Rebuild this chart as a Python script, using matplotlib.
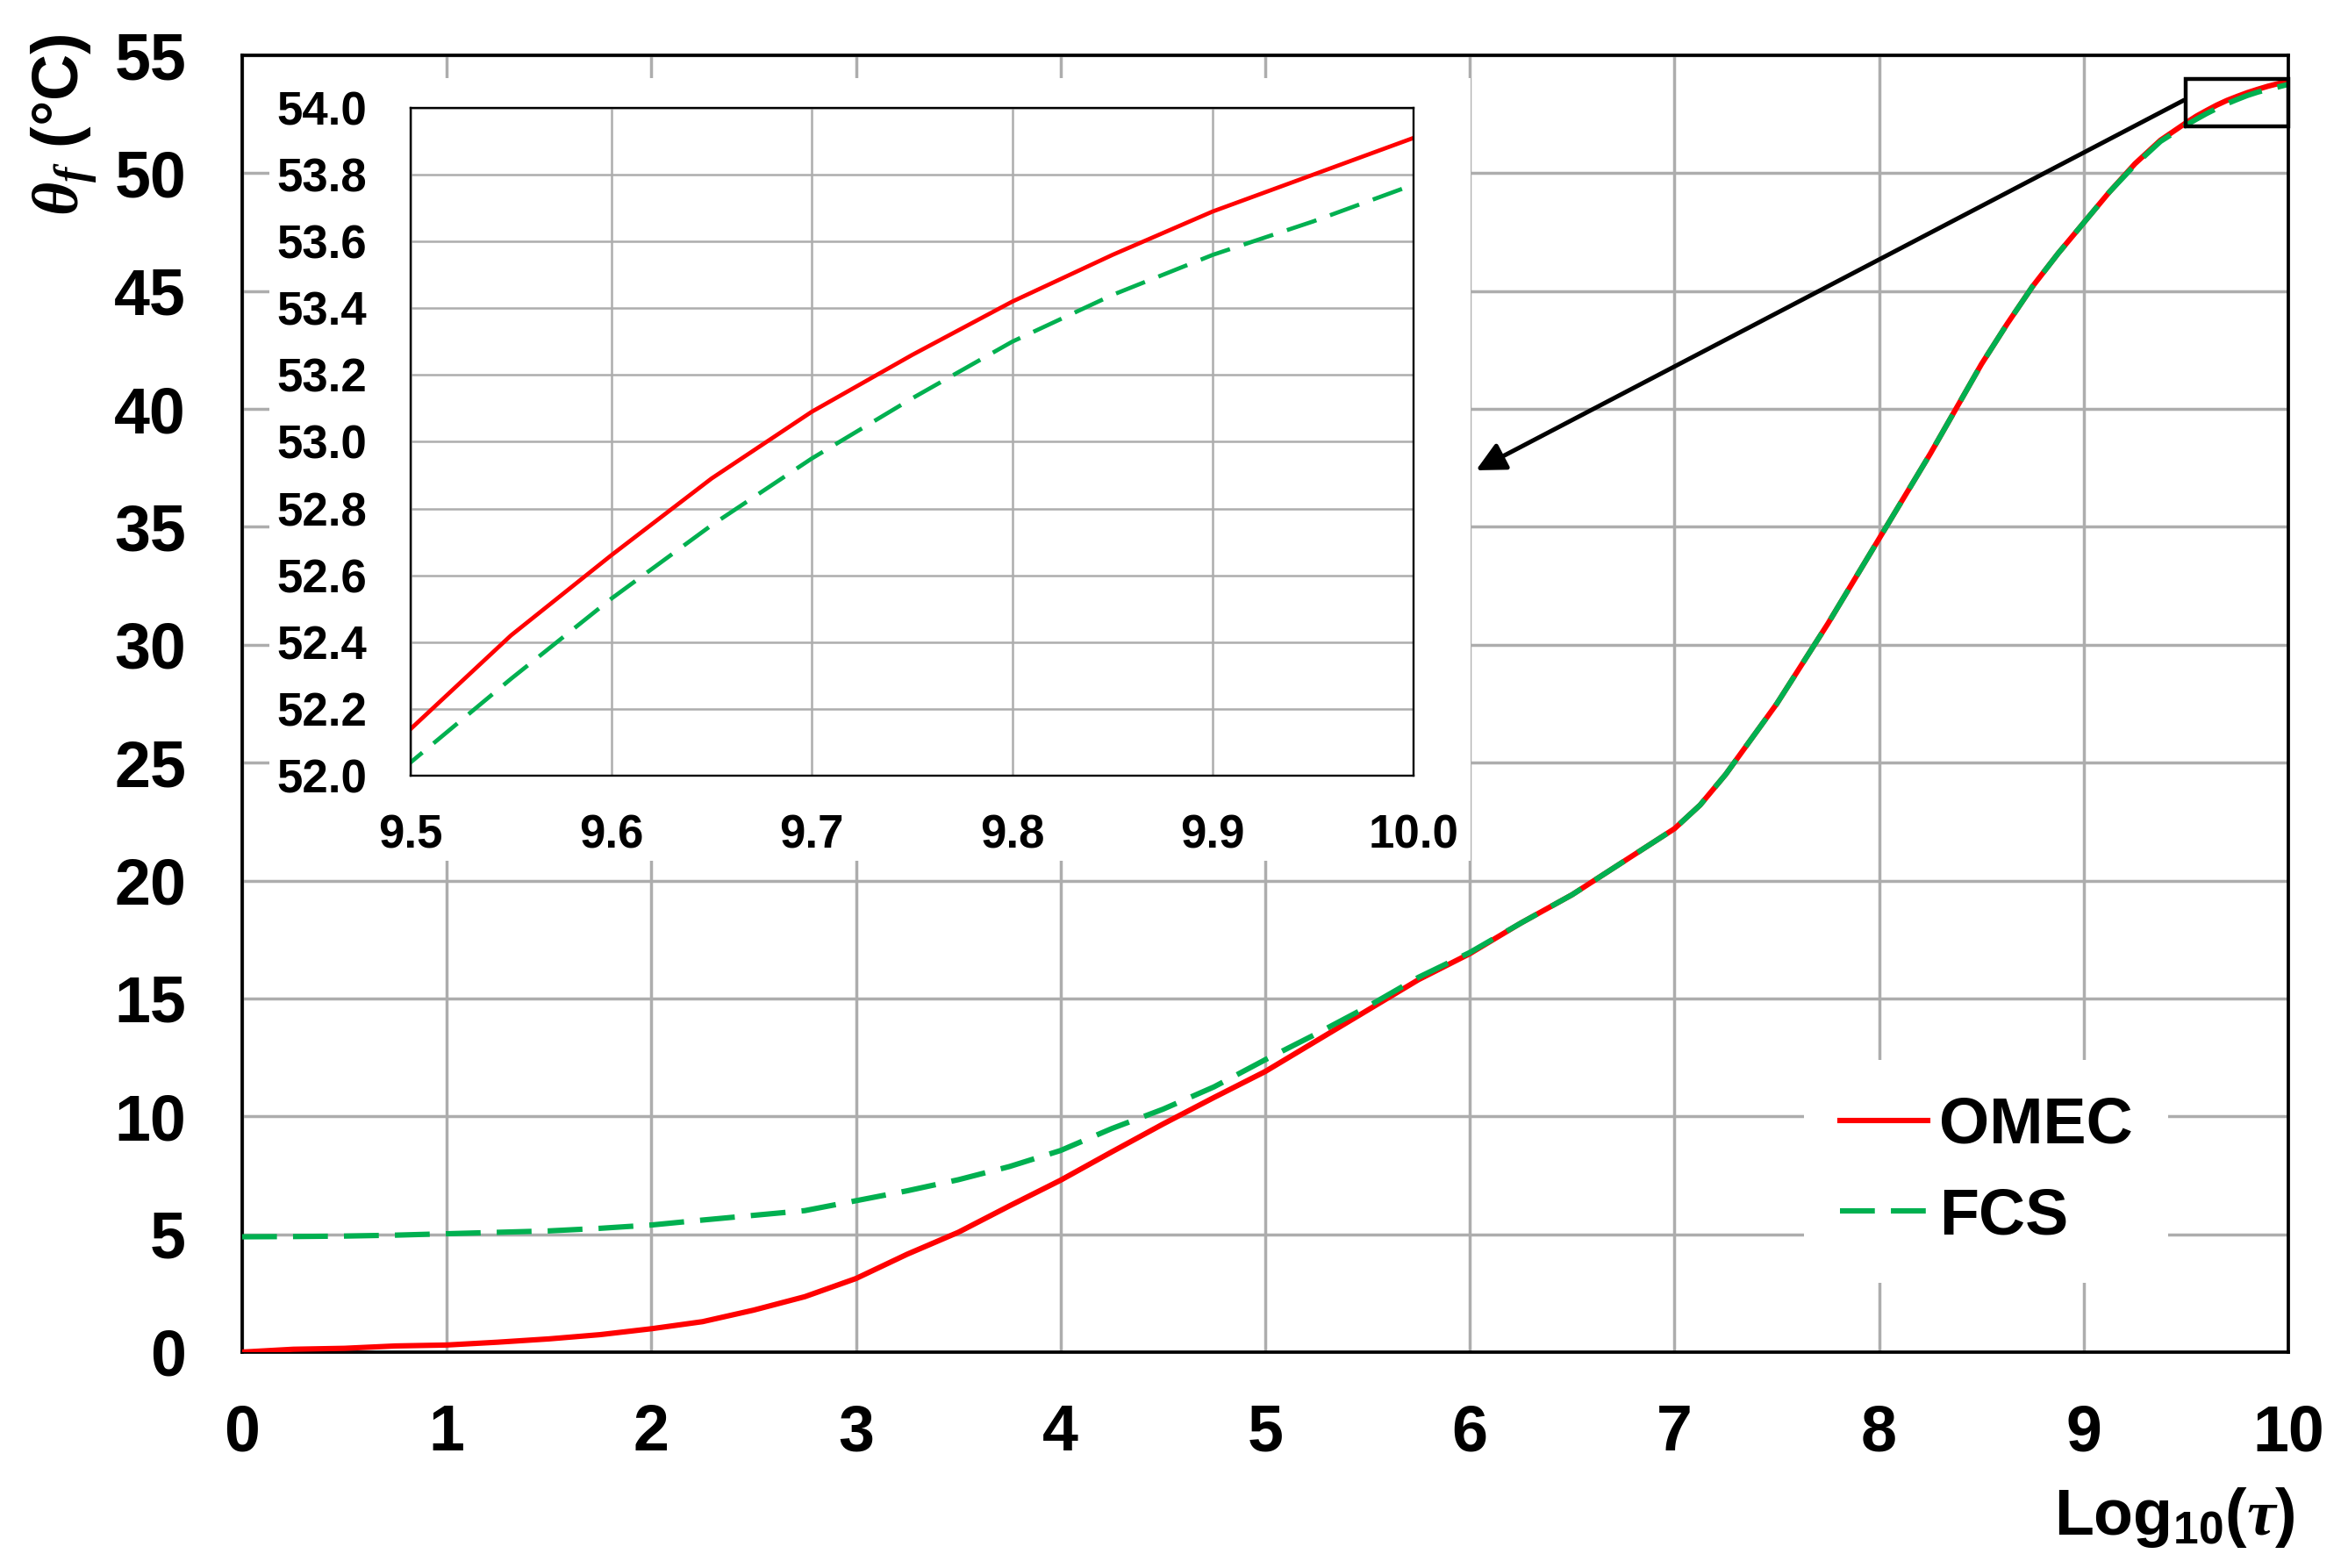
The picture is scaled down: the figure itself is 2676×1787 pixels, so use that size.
import matplotlib
matplotlib.use("Agg")
import matplotlib.pyplot as plt
from matplotlib.patches import Rectangle

# log10(tau) sample points, finer where the curve bends and in the zoomed region
tau = [0, 0.25, 0.5, 0.75, 1, 1.25, 1.5, 1.75, 2, 2.25, 2.5, 2.75, 3, 3.25,
       3.5, 3.75, 4, 4.25, 4.5, 4.75, 5, 5.25, 5.5, 5.75, 6, 6.25, 6.5, 6.75,
       7, 7.125, 7.25, 7.375, 7.5, 7.625, 7.75, 7.875, 8, 8.125, 8.25, 8.375,
       8.5, 8.625, 8.75, 8.875, 9, 9.125, 9.25, 9.375,
       9.5, 9.55, 9.6, 9.65, 9.7, 9.75, 9.8, 9.85, 9.9, 9.95, 10.0]

omec = [0.0, 0.12, 0.16, 0.26, 0.30, 0.42, 0.56, 0.74, 0.99, 1.29, 1.78, 2.35,
        3.12, 4.15, 5.08, 6.20, 7.29, 8.49, 9.67, 10.80, 11.90, 13.2, 14.5,
        15.8, 16.9, 18.2, 19.4, 20.8,
        22.2, 23.2, 24.5, 26.0, 27.5, 29.2, 30.9, 32.7, 34.5, 36.3, 38.1, 40.0,
        41.9, 43.6, 45.2, 46.6, 47.9, 49.2, 50.4, 51.4,
        52.14, 52.42, 52.66, 52.89, 53.09, 53.26, 53.42, 53.56, 53.69, 53.80, 53.91]

fcs = [4.89, 4.90, 4.92, 4.96, 5.02, 5.08, 5.14, 5.25, 5.39, 5.60, 5.80, 6.00,
       6.42, 6.84, 7.31, 7.87, 8.55, 9.48, 10.30, 11.25, 12.40, 13.5, 14.65,
       15.9, 16.95, 18.2, 19.4, 20.8,
       22.2, 23.2, 24.5, 26.0, 27.5, 29.2, 30.9, 32.7, 34.5, 36.3, 38.1, 40.0,
       41.9, 43.6, 45.2, 46.6, 47.9, 49.2, 50.35, 51.35,
       52.04, 52.29, 52.53, 52.75, 52.95, 53.13, 53.30, 53.44, 53.56, 53.66, 53.77]

xticks_main = list(range(0, 11))
yticks_main = list(range(0, 56, 5))
xticks_inset = [9.5, 9.6, 9.7, 9.8, 9.9, 10.0]
yticks_inset = [52.0, 52.2, 52.4, 52.6, 52.8, 53.0, 53.2, 53.4, 53.6, 53.8, 54.0]

plt.rcParams["font.family"] = ["Liberation Sans", "DejaVu Sans"]
plt.rcParams["font.weight"] = "bold"
plt.rcParams["mathtext.fontset"] = "custom"
plt.rcParams["mathtext.rm"] = "Liberation Sans:bold"
plt.rcParams["mathtext.bf"] = "Liberation Sans:bold"
plt.rcParams["mathtext.it"] = "Liberation Serif:italic:bold"

RED = "#FF0000"
GREEN = "#00B050"
GRID = "#ADADAD"

fig = plt.figure(figsize=(26.76, 17.87), dpi=100)
ax = fig.add_axes([0.1031, 0.1377, 0.8715, 0.8270])

ax.plot(tau, omec, color=RED, lw=4.4, label="OMEC", zorder=3)
ax.plot(tau, fcs, color=GREEN, lw=4.4, ls=(0, (6.5, 3)), label="FCS", zorder=4)

ax.set_xlim(0, 10)
ax.set_ylim(0, 55)
ax.set_xticks(xticks_main)
ax.set_yticks(yticks_main)
ax.tick_params(length=0, labelsize=53)
ax.tick_params(axis="y", pad=46)
ax.tick_params(axis="x", pad=42)
ax.set_axisbelow(True)
ax.grid(True, color=GRID, lw=2.5)
for s in ax.spines.values():
    s.set_linewidth(2.7)

# zoom box and arrow
ax.add_patch(Rectangle((9.5, 52), 0.5, 2, fill=False, ec="black", lw=3.2, zorder=5,
                       clip_on=False))
ax.annotate("", xy=(6.03, 37.4), xytext=(9.49, 53.1),
            arrowprops=dict(arrowstyle="-|>", color="black", lw=3.6,
                            mutation_scale=50, shrinkA=0, shrinkB=0), zorder=5)

leg = ax.legend(loc="center", bbox_to_anchor=(0.8459, 0.2530),
                bbox_transform=fig.transFigure, fontsize=53, frameon=True,
                handlelength=1.37, handletextpad=0.17, borderpad=0.55,
                labelspacing=0.47, fancybox=False)
leg.get_frame().set_edgecolor("none")
leg.get_frame().set_facecolor("white")
leg.get_frame().set_alpha(1)

# white area behind the inset
fig.patches.append(Rectangle((0.1147, 0.4510), 0.5116, 0.4992,
                             transform=fig.transFigure, fc="white", ec="none",
                             zorder=0.5))

axin = fig.add_axes([0.1749, 0.5053, 0.4271, 0.4259])
axin.set_zorder(1)
axin.plot(tau, omec, color=RED, lw=3.4)
axin.plot(tau, fcs, color=GREEN, lw=3.4, ls=(0, (7.5, 3.5)))
axin.set_xlim(9.5, 10)
axin.set_ylim(52, 54)
axin.set_xticks(xticks_inset)
axin.set_yticks(yticks_inset)
axin.set_xticklabels([f"{v:.1f}" for v in xticks_inset])
axin.set_yticklabels([f"{v:.1f}" for v in yticks_inset])
axin.tick_params(length=0, labelsize=38)
axin.tick_params(axis="y", pad=36)
axin.tick_params(axis="x", pad=31)
axin.set_axisbelow(True)
axin.grid(True, color=GRID, lw=1.8)
for s in axin.spines.values():
    s.set_linewidth(1.7)

fig.text(0.027, 1 - 38 / 1787, r"$\theta_f$ (°C)", rotation=90, ha="center",
         va="top", fontsize=53, fontweight="bold")
fig.text(0.9776, 0.0213, r"Log$_{10}$($\tau$)", ha="right", va="baseline",
         fontsize=53, fontweight="bold")

fig.savefig("out.png", dpi=100)
